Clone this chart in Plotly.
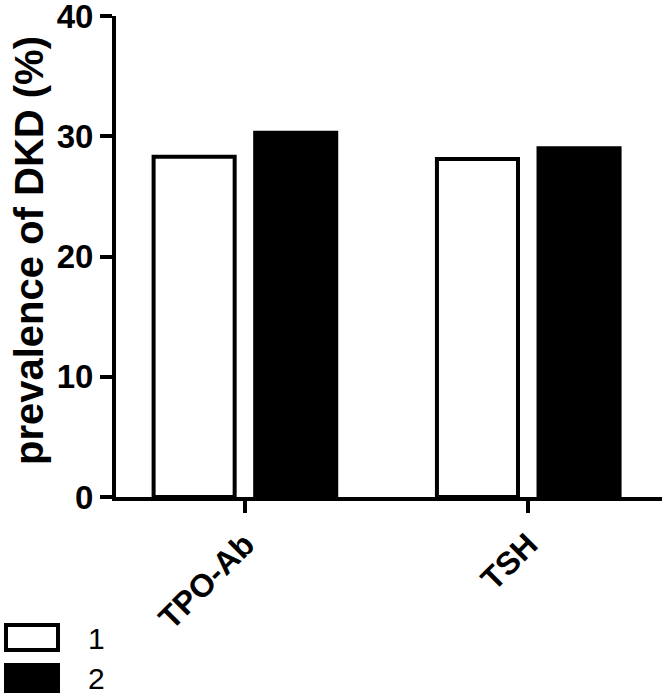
import plotly.graph_objects as go

categories = ["TPO-Ab", "TSH"]
group1_values = [28.3, 28.1]
group2_values = [30.3, 29.0]
series_names = ["1", "2"]
y_ticks = [0, 10, 20, 30, 40]
y_title = "prevalence of DKD (%)"

FONT = "Arial, Liberation Sans, sans-serif"

W, H = 666, 697
L, R, T, B = 116, 4, 16, 200
pw = W - L - R
ph = H - T - B

fig = go.Figure()
fig.add_trace(go.Bar(x=categories, y=group1_values, name=series_names[0],
                     marker=dict(color="white", line=dict(color="black", width=4)),
                     showlegend=False))
fig.add_trace(go.Bar(x=categories, y=group2_values, name=series_names[1],
                     marker=dict(color="black", line=dict(color="black", width=4)),
                     showlegend=False))

def px_x(p):
    return (p - L) / pw

def px_y(p):
    return (H - B - p) / ph

# legend boxes drawn as shapes (large swatches like the reference)
fig.add_shape(type="rect", xref="paper", yref="paper",
              x0=px_x(6), x1=px_x(58), y0=px_y(650), y1=px_y(625),
              line=dict(color="black", width=4), fillcolor="white")
fig.add_shape(type="rect", xref="paper", yref="paper",
              x0=px_x(4), x1=px_x(60), y0=px_y(693), y1=px_y(663),
              line=dict(color="black", width=0), fillcolor="black")
fig.add_annotation(text=series_names[0], xref="paper", yref="paper",
                   x=px_x(86), y=px_y(638), xanchor="left", yanchor="middle",
                   showarrow=False, font=dict(family=FONT, size=30, color="black"))
fig.add_annotation(text=series_names[1], xref="paper", yref="paper",
                   x=px_x(86), y=px_y(678), xanchor="left", yanchor="middle",
                   showarrow=False, font=dict(family=FONT, size=30, color="black"))
# y axis title
fig.add_annotation(text=y_title, xref="paper", yref="paper",
                   x=px_x(29), y=px_y(251), xanchor="center", yanchor="middle",
                   textangle=-90, showarrow=False,
                   font=dict(family=FONT, size=40, color="black", weight="bold"))

fig.update_layout(
    width=W, height=H,
    margin=dict(l=L, r=R, t=T, b=B, pad=0, autoexpand=False),
    paper_bgcolor="white", plot_bgcolor="white",
    barmode="group", bargap=0.283, bargroupgap=0.202,
    font=dict(family=FONT, color="black"),
)
fig.update_xaxes(
    range=[-0.455, 1.472], automargin=False,
    showline=True, linecolor="black", linewidth=4,
    ticks="outside", ticklen=12, tickwidth=4, tickcolor="black",
    tickangle=-45, ticklabeloverflow="allow",
    tickfont=dict(family=FONT, size=32, color="black", weight="bold"),
    showgrid=False, zeroline=False,
)
fig.update_yaxes(
    range=[0, 40], tickvals=y_ticks, automargin=False,
    showline=True, linecolor="black", linewidth=4,
    ticks="outside", ticklen=12, tickwidth=4, tickcolor="black",
    ticklabeloverflow="allow",
    tickfont=dict(family=FONT, size=33, color="black", weight="bold"),
    showgrid=False, zeroline=False,
)

fig.write_html(
    "out.html",
    config={"displayModeBar": False},
    post_script="document.body.style.margin='0';document.body.style.overflow='hidden';",
)
